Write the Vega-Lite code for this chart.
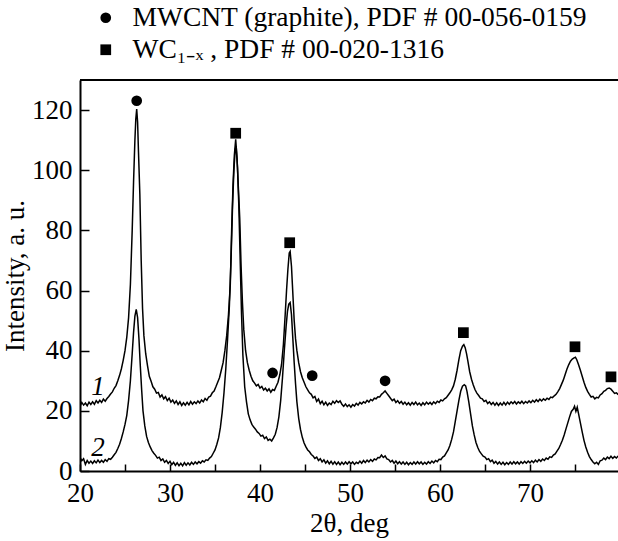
{
  "$schema": "https://vega.github.io/schema/vega-lite/v6.json",
  "autosize": {"type": "none"},
  "padding": {"left": 80, "top": 80, "right": 0, "bottom": 70},
  "width": 538,
  "height": 391,
  "background": "white",
  "config": {
    "font": "Liberation Serif",
    "view": {"stroke": null},
    "axis": {"grid": false, "domainColor": "black", "domainWidth": 2, "tickColor": "black", "tickWidth": 1.5, "labelColor": "black", "titleColor": "black", "labelFont": "Liberation Serif", "titleFont": "Liberation Serif", "labelFontSize": 27, "titleFontSize": 27, "titleFontWeight": "normal", "labelFlush": false, "labelOverlap": false},
    "legend": {"labelFont": "Liberation Serif"}
  },
  "datasets": {
    "curves": [
      {"x":20.0,"y":21.5,"s":"1"},{"x":20.2,"y":22.8,"s":"1"},{"x":20.4,"y":21.9,"s":"1"},{"x":20.6,"y":22.6,"s":"1"},{"x":20.8,"y":21.7,"s":"1"},{"x":21.0,"y":22.9,"s":"1"},{"x":21.2,"y":22.1,"s":"1"},{"x":21.4,"y":23.0,"s":"1"},{"x":21.6,"y":22.2,"s":"1"},{"x":21.8,"y":23.4,"s":"1"},{"x":22.0,"y":22.6,"s":"1"},{"x":22.2,"y":23.5,"s":"1"},{"x":22.4,"y":22.8,"s":"1"},{"x":22.6,"y":23.9,"s":"1"},{"x":22.8,"y":23.2,"s":"1"},{"x":23.0,"y":24.1,"s":"1"},{"x":23.2,"y":24.8,"s":"1"},{"x":23.4,"y":25.6,"s":"1"},{"x":23.6,"y":26.3,"s":"1"},{"x":23.8,"y":27.5,"s":"1"},{"x":24.0,"y":28.4,"s":"1"},{"x":24.2,"y":30.0,"s":"1"},{"x":24.4,"y":31.8,"s":"1"},{"x":24.6,"y":34.0,"s":"1"},{"x":24.8,"y":36.8,"s":"1"},{"x":25.0,"y":40.0,"s":"1"},{"x":25.2,"y":44.5,"s":"1"},{"x":25.4,"y":51.0,"s":"1"},{"x":25.6,"y":62.0,"s":"1"},{"x":25.8,"y":80.0,"s":"1"},{"x":25.95,"y":96.0,"s":"1"},{"x":26.1,"y":110.0,"s":"1"},{"x":26.2,"y":117.0,"s":"1"},{"x":26.3,"y":120.3,"s":"1"},{"x":26.4,"y":116.0,"s":"1"},{"x":26.5,"y":106.0,"s":"1"},{"x":26.65,"y":92.0,"s":"1"},{"x":26.8,"y":70.0,"s":"1"},{"x":26.95,"y":54.0,"s":"1"},{"x":27.1,"y":45.0,"s":"1"},{"x":27.3,"y":39.0,"s":"1"},{"x":27.5,"y":35.0,"s":"1"},{"x":27.7,"y":31.5,"s":"1"},{"x":27.9,"y":29.8,"s":"1"},{"x":28.1,"y":28.0,"s":"1"},{"x":28.3,"y":27.2,"s":"1"},{"x":28.5,"y":25.9,"s":"1"},{"x":28.7,"y":26.1,"s":"1"},{"x":28.9,"y":24.6,"s":"1"},{"x":29.1,"y":25.3,"s":"1"},{"x":29.3,"y":24.0,"s":"1"},{"x":29.5,"y":24.7,"s":"1"},{"x":29.7,"y":23.4,"s":"1"},{"x":29.9,"y":24.2,"s":"1"},{"x":30.1,"y":22.9,"s":"1"},{"x":30.3,"y":23.6,"s":"1"},{"x":30.5,"y":22.5,"s":"1"},{"x":30.7,"y":23.3,"s":"1"},{"x":30.9,"y":22.1,"s":"1"},{"x":31.1,"y":23.0,"s":"1"},{"x":31.3,"y":21.8,"s":"1"},{"x":31.5,"y":22.7,"s":"1"},{"x":31.7,"y":21.9,"s":"1"},{"x":31.9,"y":22.8,"s":"1"},{"x":32.1,"y":22.0,"s":"1"},{"x":32.3,"y":23.1,"s":"1"},{"x":32.5,"y":22.2,"s":"1"},{"x":32.7,"y":23.0,"s":"1"},{"x":32.9,"y":22.4,"s":"1"},{"x":33.1,"y":23.3,"s":"1"},{"x":33.3,"y":22.6,"s":"1"},{"x":33.5,"y":23.6,"s":"1"},{"x":33.7,"y":23.0,"s":"1"},{"x":33.9,"y":24.1,"s":"1"},{"x":34.1,"y":23.5,"s":"1"},{"x":34.3,"y":24.6,"s":"1"},{"x":34.5,"y":24.9,"s":"1"},{"x":34.7,"y":26.0,"s":"1"},{"x":34.9,"y":26.6,"s":"1"},{"x":35.1,"y":28.0,"s":"1"},{"x":35.3,"y":29.5,"s":"1"},{"x":35.5,"y":31.0,"s":"1"},{"x":35.7,"y":33.5,"s":"1"},{"x":35.9,"y":36.0,"s":"1"},{"x":36.1,"y":40.0,"s":"1"},{"x":36.3,"y":45.0,"s":"1"},{"x":36.5,"y":52.0,"s":"1"},{"x":36.7,"y":62.0,"s":"1"},{"x":36.85,"y":80.0,"s":"1"},{"x":37.0,"y":95.0,"s":"1"},{"x":37.15,"y":105.0,"s":"1"},{"x":37.3,"y":110.3,"s":"1"},{"x":37.45,"y":104.0,"s":"1"},{"x":37.6,"y":94.0,"s":"1"},{"x":37.75,"y":84.0,"s":"1"},{"x":37.9,"y":68.0,"s":"1"},{"x":38.05,"y":56.0,"s":"1"},{"x":38.2,"y":47.0,"s":"1"},{"x":38.4,"y":40.0,"s":"1"},{"x":38.6,"y":36.0,"s":"1"},{"x":38.8,"y":33.5,"s":"1"},{"x":39.0,"y":31.5,"s":"1"},{"x":39.2,"y":30.0,"s":"1"},{"x":39.4,"y":29.2,"s":"1"},{"x":39.6,"y":28.3,"s":"1"},{"x":39.8,"y":28.8,"s":"1"},{"x":40.0,"y":27.6,"s":"1"},{"x":40.2,"y":28.1,"s":"1"},{"x":40.4,"y":26.9,"s":"1"},{"x":40.6,"y":27.5,"s":"1"},{"x":40.8,"y":26.6,"s":"1"},{"x":41.0,"y":27.3,"s":"1"},{"x":41.2,"y":26.2,"s":"1"},{"x":41.4,"y":27.1,"s":"1"},{"x":41.6,"y":26.8,"s":"1"},{"x":41.8,"y":28.2,"s":"1"},{"x":42.0,"y":29.5,"s":"1"},{"x":42.2,"y":32.0,"s":"1"},{"x":42.4,"y":35.5,"s":"1"},{"x":42.6,"y":42.0,"s":"1"},{"x":42.8,"y":52.0,"s":"1"},{"x":42.95,"y":60.0,"s":"1"},{"x":43.1,"y":67.0,"s":"1"},{"x":43.25,"y":72.5,"s":"1"},{"x":43.35,"y":73.0,"s":"1"},{"x":43.5,"y":68.0,"s":"1"},{"x":43.6,"y":62.0,"s":"1"},{"x":43.7,"y":56.0,"s":"1"},{"x":43.8,"y":50.0,"s":"1"},{"x":43.95,"y":44.0,"s":"1"},{"x":44.1,"y":40.0,"s":"1"},{"x":44.3,"y":36.0,"s":"1"},{"x":44.5,"y":33.0,"s":"1"},{"x":44.7,"y":31.0,"s":"1"},{"x":44.9,"y":29.5,"s":"1"},{"x":45.1,"y":28.0,"s":"1"},{"x":45.3,"y":27.0,"s":"1"},{"x":45.5,"y":26.0,"s":"1"},{"x":45.7,"y":25.5,"s":"1"},{"x":45.9,"y":24.3,"s":"1"},{"x":46.1,"y":24.8,"s":"1"},{"x":46.3,"y":23.1,"s":"1"},{"x":46.5,"y":23.9,"s":"1"},{"x":46.7,"y":22.4,"s":"1"},{"x":46.9,"y":23.2,"s":"1"},{"x":47.1,"y":22.0,"s":"1"},{"x":47.3,"y":22.9,"s":"1"},{"x":47.5,"y":21.8,"s":"1"},{"x":47.7,"y":22.6,"s":"1"},{"x":47.9,"y":22.1,"s":"1"},{"x":48.1,"y":23.2,"s":"1"},{"x":48.3,"y":22.5,"s":"1"},{"x":48.5,"y":23.4,"s":"1"},{"x":48.7,"y":22.8,"s":"1"},{"x":48.9,"y":23.3,"s":"1"},{"x":49.1,"y":22.2,"s":"1"},{"x":49.3,"y":21.5,"s":"1"},{"x":49.5,"y":22.3,"s":"1"},{"x":49.7,"y":21.4,"s":"1"},{"x":49.9,"y":22.0,"s":"1"},{"x":50.1,"y":21.2,"s":"1"},{"x":50.3,"y":22.1,"s":"1"},{"x":50.5,"y":21.6,"s":"1"},{"x":50.7,"y":22.5,"s":"1"},{"x":50.9,"y":21.9,"s":"1"},{"x":51.1,"y":22.8,"s":"1"},{"x":51.3,"y":22.3,"s":"1"},{"x":51.5,"y":23.0,"s":"1"},{"x":51.7,"y":22.6,"s":"1"},{"x":51.9,"y":23.5,"s":"1"},{"x":52.1,"y":22.9,"s":"1"},{"x":52.3,"y":23.8,"s":"1"},{"x":52.5,"y":23.4,"s":"1"},{"x":52.7,"y":24.2,"s":"1"},{"x":52.9,"y":24.0,"s":"1"},{"x":53.1,"y":24.7,"s":"1"},{"x":53.3,"y":24.6,"s":"1"},{"x":53.5,"y":25.5,"s":"1"},{"x":53.7,"y":26.0,"s":"1"},{"x":53.9,"y":26.6,"s":"1"},{"x":54.1,"y":25.8,"s":"1"},{"x":54.3,"y":25.0,"s":"1"},{"x":54.5,"y":24.2,"s":"1"},{"x":54.7,"y":23.4,"s":"1"},{"x":54.9,"y":23.9,"s":"1"},{"x":55.1,"y":22.8,"s":"1"},{"x":55.3,"y":23.4,"s":"1"},{"x":55.5,"y":22.5,"s":"1"},{"x":55.7,"y":23.1,"s":"1"},{"x":55.9,"y":22.2,"s":"1"},{"x":56.1,"y":22.9,"s":"1"},{"x":56.3,"y":22.0,"s":"1"},{"x":56.5,"y":22.7,"s":"1"},{"x":56.7,"y":21.9,"s":"1"},{"x":56.9,"y":22.8,"s":"1"},{"x":57.1,"y":22.1,"s":"1"},{"x":57.3,"y":22.9,"s":"1"},{"x":57.5,"y":22.0,"s":"1"},{"x":57.7,"y":22.6,"s":"1"},{"x":57.9,"y":21.8,"s":"1"},{"x":58.1,"y":22.7,"s":"1"},{"x":58.3,"y":22.0,"s":"1"},{"x":58.5,"y":22.9,"s":"1"},{"x":58.7,"y":22.2,"s":"1"},{"x":58.9,"y":22.8,"s":"1"},{"x":59.1,"y":22.1,"s":"1"},{"x":59.3,"y":23.0,"s":"1"},{"x":59.5,"y":22.4,"s":"1"},{"x":59.7,"y":23.2,"s":"1"},{"x":59.9,"y":22.8,"s":"1"},{"x":60.1,"y":23.6,"s":"1"},{"x":60.3,"y":23.3,"s":"1"},{"x":60.5,"y":24.0,"s":"1"},{"x":60.7,"y":24.4,"s":"1"},{"x":60.9,"y":25.2,"s":"1"},{"x":61.1,"y":26.0,"s":"1"},{"x":61.3,"y":27.0,"s":"1"},{"x":61.5,"y":28.3,"s":"1"},{"x":61.7,"y":30.5,"s":"1"},{"x":61.9,"y":33.5,"s":"1"},{"x":62.1,"y":37.0,"s":"1"},{"x":62.3,"y":40.0,"s":"1"},{"x":62.5,"y":41.5,"s":"1"},{"x":62.65,"y":42.0,"s":"1"},{"x":62.8,"y":41.0,"s":"1"},{"x":62.95,"y":39.0,"s":"1"},{"x":63.1,"y":36.5,"s":"1"},{"x":63.3,"y":33.0,"s":"1"},{"x":63.5,"y":30.5,"s":"1"},{"x":63.7,"y":28.6,"s":"1"},{"x":63.9,"y":27.0,"s":"1"},{"x":64.1,"y":25.9,"s":"1"},{"x":64.3,"y":25.1,"s":"1"},{"x":64.5,"y":24.2,"s":"1"},{"x":64.7,"y":24.0,"s":"1"},{"x":64.9,"y":23.1,"s":"1"},{"x":65.1,"y":23.5,"s":"1"},{"x":65.3,"y":22.4,"s":"1"},{"x":65.5,"y":23.0,"s":"1"},{"x":65.7,"y":22.1,"s":"1"},{"x":65.9,"y":22.8,"s":"1"},{"x":66.1,"y":21.9,"s":"1"},{"x":66.3,"y":22.7,"s":"1"},{"x":66.5,"y":21.8,"s":"1"},{"x":66.7,"y":22.6,"s":"1"},{"x":66.9,"y":21.9,"s":"1"},{"x":67.1,"y":22.8,"s":"1"},{"x":67.3,"y":22.0,"s":"1"},{"x":67.5,"y":22.9,"s":"1"},{"x":67.7,"y":22.2,"s":"1"},{"x":67.9,"y":23.0,"s":"1"},{"x":68.1,"y":22.4,"s":"1"},{"x":68.3,"y":23.1,"s":"1"},{"x":68.5,"y":22.3,"s":"1"},{"x":68.7,"y":23.0,"s":"1"},{"x":68.9,"y":22.5,"s":"1"},{"x":69.1,"y":23.2,"s":"1"},{"x":69.3,"y":22.4,"s":"1"},{"x":69.5,"y":23.1,"s":"1"},{"x":69.7,"y":22.6,"s":"1"},{"x":69.9,"y":23.3,"s":"1"},{"x":70.1,"y":22.7,"s":"1"},{"x":70.3,"y":23.5,"s":"1"},{"x":70.5,"y":22.9,"s":"1"},{"x":70.7,"y":23.7,"s":"1"},{"x":70.9,"y":23.1,"s":"1"},{"x":71.1,"y":23.9,"s":"1"},{"x":71.3,"y":23.3,"s":"1"},{"x":71.5,"y":24.0,"s":"1"},{"x":71.7,"y":23.5,"s":"1"},{"x":71.9,"y":24.2,"s":"1"},{"x":72.1,"y":23.8,"s":"1"},{"x":72.3,"y":24.6,"s":"1"},{"x":72.5,"y":24.4,"s":"1"},{"x":72.7,"y":25.0,"s":"1"},{"x":72.9,"y":25.5,"s":"1"},{"x":73.1,"y":26.4,"s":"1"},{"x":73.3,"y":27.4,"s":"1"},{"x":73.5,"y":28.8,"s":"1"},{"x":73.7,"y":30.2,"s":"1"},{"x":73.9,"y":32.0,"s":"1"},{"x":74.1,"y":33.8,"s":"1"},{"x":74.3,"y":35.3,"s":"1"},{"x":74.5,"y":36.5,"s":"1"},{"x":74.7,"y":37.2,"s":"1"},{"x":74.9,"y":37.6,"s":"1"},{"x":75.05,"y":37.8,"s":"1"},{"x":75.2,"y":37.0,"s":"1"},{"x":75.4,"y":35.3,"s":"1"},{"x":75.6,"y":33.5,"s":"1"},{"x":75.8,"y":31.5,"s":"1"},{"x":76.0,"y":29.5,"s":"1"},{"x":76.2,"y":27.8,"s":"1"},{"x":76.4,"y":26.5,"s":"1"},{"x":76.6,"y":25.5,"s":"1"},{"x":76.8,"y":24.6,"s":"1"},{"x":77.0,"y":24.8,"s":"1"},{"x":77.2,"y":24.0,"s":"1"},{"x":77.4,"y":24.5,"s":"1"},{"x":77.6,"y":24.3,"s":"1"},{"x":77.8,"y":25.3,"s":"1"},{"x":78.0,"y":25.7,"s":"1"},{"x":78.2,"y":26.5,"s":"1"},{"x":78.4,"y":26.8,"s":"1"},{"x":78.6,"y":27.4,"s":"1"},{"x":78.8,"y":27.6,"s":"1"},{"x":79.0,"y":27.2,"s":"1"},{"x":79.2,"y":26.5,"s":"1"},{"x":79.4,"y":25.8,"s":"1"},{"x":79.6,"y":26.0,"s":"1"},{"x":79.8,"y":25.4,"s":"1"},
      {"x":20.0,"y":4.5,"s":"2"},{"x":20.2,"y":3.4,"s":"2"},{"x":20.4,"y":4.1,"s":"2"},{"x":20.6,"y":2.2,"s":"2"},{"x":20.8,"y":3.5,"s":"2"},{"x":21.0,"y":2.6,"s":"2"},{"x":21.2,"y":3.3,"s":"2"},{"x":21.4,"y":2.5,"s":"2"},{"x":21.6,"y":3.4,"s":"2"},{"x":21.8,"y":2.7,"s":"2"},{"x":22.0,"y":3.6,"s":"2"},{"x":22.2,"y":2.8,"s":"2"},{"x":22.4,"y":3.5,"s":"2"},{"x":22.6,"y":2.9,"s":"2"},{"x":22.8,"y":3.8,"s":"2"},{"x":23.0,"y":3.2,"s":"2"},{"x":23.2,"y":4.1,"s":"2"},{"x":23.4,"y":3.9,"s":"2"},{"x":23.6,"y":4.6,"s":"2"},{"x":23.8,"y":5.4,"s":"2"},{"x":24.0,"y":6.2,"s":"2"},{"x":24.2,"y":7.5,"s":"2"},{"x":24.4,"y":8.9,"s":"2"},{"x":24.6,"y":10.8,"s":"2"},{"x":24.8,"y":13.0,"s":"2"},{"x":25.0,"y":15.5,"s":"2"},{"x":25.2,"y":18.5,"s":"2"},{"x":25.4,"y":23.5,"s":"2"},{"x":25.6,"y":30.0,"s":"2"},{"x":25.8,"y":39.0,"s":"2"},{"x":25.95,"y":46.0,"s":"2"},{"x":26.1,"y":51.5,"s":"2"},{"x":26.25,"y":53.7,"s":"2"},{"x":26.4,"y":51.0,"s":"2"},{"x":26.55,"y":44.0,"s":"2"},{"x":26.7,"y":35.0,"s":"2"},{"x":26.85,"y":27.0,"s":"2"},{"x":27.0,"y":20.0,"s":"2"},{"x":27.2,"y":15.0,"s":"2"},{"x":27.4,"y":11.5,"s":"2"},{"x":27.6,"y":9.5,"s":"2"},{"x":27.8,"y":8.0,"s":"2"},{"x":28.0,"y":6.8,"s":"2"},{"x":28.2,"y":5.9,"s":"2"},{"x":28.4,"y":5.2,"s":"2"},{"x":28.6,"y":4.3,"s":"2"},{"x":28.8,"y":4.6,"s":"2"},{"x":29.0,"y":3.5,"s":"2"},{"x":29.2,"y":4.0,"s":"2"},{"x":29.4,"y":2.9,"s":"2"},{"x":29.6,"y":3.5,"s":"2"},{"x":29.8,"y":2.5,"s":"2"},{"x":30.0,"y":3.2,"s":"2"},{"x":30.2,"y":2.1,"s":"2"},{"x":30.4,"y":2.9,"s":"2"},{"x":30.6,"y":1.9,"s":"2"},{"x":30.8,"y":2.7,"s":"2"},{"x":31.0,"y":1.8,"s":"2"},{"x":31.2,"y":2.6,"s":"2"},{"x":31.4,"y":1.7,"s":"2"},{"x":31.6,"y":2.8,"s":"2"},{"x":31.8,"y":1.9,"s":"2"},{"x":32.0,"y":2.7,"s":"2"},{"x":32.2,"y":2.0,"s":"2"},{"x":32.4,"y":2.9,"s":"2"},{"x":32.6,"y":2.2,"s":"2"},{"x":32.8,"y":3.0,"s":"2"},{"x":33.0,"y":2.4,"s":"2"},{"x":33.2,"y":3.1,"s":"2"},{"x":33.4,"y":2.6,"s":"2"},{"x":33.6,"y":3.4,"s":"2"},{"x":33.8,"y":3.0,"s":"2"},{"x":34.0,"y":3.7,"s":"2"},{"x":34.2,"y":3.5,"s":"2"},{"x":34.4,"y":4.3,"s":"2"},{"x":34.6,"y":4.8,"s":"2"},{"x":34.8,"y":5.9,"s":"2"},{"x":35.0,"y":7.0,"s":"2"},{"x":35.2,"y":8.8,"s":"2"},{"x":35.4,"y":11.0,"s":"2"},{"x":35.6,"y":14.5,"s":"2"},{"x":35.8,"y":19.5,"s":"2"},{"x":36.0,"y":26.0,"s":"2"},{"x":36.2,"y":34.0,"s":"2"},{"x":36.4,"y":44.0,"s":"2"},{"x":36.6,"y":55.0,"s":"2"},{"x":36.8,"y":72.0,"s":"2"},{"x":36.95,"y":88.0,"s":"2"},{"x":37.1,"y":100.0,"s":"2"},{"x":37.25,"y":107.0,"s":"2"},{"x":37.35,"y":108.0,"s":"2"},{"x":37.5,"y":101.0,"s":"2"},{"x":37.65,"y":88.0,"s":"2"},{"x":37.8,"y":70.0,"s":"2"},{"x":37.95,"y":52.0,"s":"2"},{"x":38.1,"y":38.5,"s":"2"},{"x":38.3,"y":28.0,"s":"2"},{"x":38.5,"y":23.0,"s":"2"},{"x":38.7,"y":19.0,"s":"2"},{"x":38.9,"y":17.0,"s":"2"},{"x":39.1,"y":15.5,"s":"2"},{"x":39.3,"y":14.6,"s":"2"},{"x":39.5,"y":13.9,"s":"2"},{"x":39.7,"y":13.0,"s":"2"},{"x":39.9,"y":12.5,"s":"2"},{"x":40.1,"y":11.6,"s":"2"},{"x":40.3,"y":11.9,"s":"2"},{"x":40.5,"y":10.8,"s":"2"},{"x":40.7,"y":11.3,"s":"2"},{"x":40.9,"y":10.2,"s":"2"},{"x":41.1,"y":10.6,"s":"2"},{"x":41.3,"y":10.0,"s":"2"},{"x":41.5,"y":11.0,"s":"2"},{"x":41.7,"y":12.2,"s":"2"},{"x":41.9,"y":14.5,"s":"2"},{"x":42.1,"y":18.0,"s":"2"},{"x":42.3,"y":23.5,"s":"2"},{"x":42.5,"y":31.0,"s":"2"},{"x":42.7,"y":40.0,"s":"2"},{"x":42.9,"y":48.0,"s":"2"},{"x":43.05,"y":53.0,"s":"2"},{"x":43.2,"y":55.5,"s":"2"},{"x":43.35,"y":56.0,"s":"2"},{"x":43.5,"y":52.0,"s":"2"},{"x":43.65,"y":44.0,"s":"2"},{"x":43.8,"y":36.0,"s":"2"},{"x":43.95,"y":29.0,"s":"2"},{"x":44.1,"y":23.0,"s":"2"},{"x":44.3,"y":17.5,"s":"2"},{"x":44.5,"y":13.8,"s":"2"},{"x":44.7,"y":11.2,"s":"2"},{"x":44.9,"y":9.3,"s":"2"},{"x":45.1,"y":8.0,"s":"2"},{"x":45.3,"y":7.0,"s":"2"},{"x":45.5,"y":6.4,"s":"2"},{"x":45.7,"y":5.5,"s":"2"},{"x":45.9,"y":5.0,"s":"2"},{"x":46.1,"y":4.2,"s":"2"},{"x":46.3,"y":4.6,"s":"2"},{"x":46.5,"y":3.5,"s":"2"},{"x":46.7,"y":4.1,"s":"2"},{"x":46.9,"y":3.0,"s":"2"},{"x":47.1,"y":3.7,"s":"2"},{"x":47.3,"y":2.6,"s":"2"},{"x":47.5,"y":3.4,"s":"2"},{"x":47.7,"y":2.4,"s":"2"},{"x":47.9,"y":3.2,"s":"2"},{"x":48.1,"y":2.3,"s":"2"},{"x":48.3,"y":3.1,"s":"2"},{"x":48.5,"y":2.2,"s":"2"},{"x":48.7,"y":3.0,"s":"2"},{"x":48.9,"y":2.1,"s":"2"},{"x":49.1,"y":2.9,"s":"2"},{"x":49.3,"y":2.2,"s":"2"},{"x":49.5,"y":3.0,"s":"2"},{"x":49.7,"y":2.3,"s":"2"},{"x":49.9,"y":3.1,"s":"2"},{"x":50.1,"y":2.4,"s":"2"},{"x":50.3,"y":3.0,"s":"2"},{"x":50.5,"y":2.2,"s":"2"},{"x":50.7,"y":2.9,"s":"2"},{"x":50.9,"y":2.5,"s":"2"},{"x":51.1,"y":3.3,"s":"2"},{"x":51.3,"y":2.6,"s":"2"},{"x":51.5,"y":3.5,"s":"2"},{"x":51.7,"y":2.8,"s":"2"},{"x":51.9,"y":3.6,"s":"2"},{"x":52.1,"y":3.0,"s":"2"},{"x":52.3,"y":3.8,"s":"2"},{"x":52.5,"y":3.2,"s":"2"},{"x":52.7,"y":4.0,"s":"2"},{"x":52.9,"y":3.7,"s":"2"},{"x":53.1,"y":4.5,"s":"2"},{"x":53.3,"y":4.4,"s":"2"},{"x":53.5,"y":5.3,"s":"2"},{"x":53.7,"y":4.5,"s":"2"},{"x":53.9,"y":5.0,"s":"2"},{"x":54.1,"y":4.0,"s":"2"},{"x":54.3,"y":3.8,"s":"2"},{"x":54.5,"y":3.0,"s":"2"},{"x":54.7,"y":3.5,"s":"2"},{"x":54.9,"y":2.6,"s":"2"},{"x":55.1,"y":3.3,"s":"2"},{"x":55.3,"y":2.4,"s":"2"},{"x":55.5,"y":3.1,"s":"2"},{"x":55.7,"y":2.3,"s":"2"},{"x":55.9,"y":3.0,"s":"2"},{"x":56.1,"y":2.2,"s":"2"},{"x":56.3,"y":2.9,"s":"2"},{"x":56.5,"y":2.1,"s":"2"},{"x":56.7,"y":2.8,"s":"2"},{"x":56.9,"y":2.2,"s":"2"},{"x":57.1,"y":3.0,"s":"2"},{"x":57.3,"y":2.3,"s":"2"},{"x":57.5,"y":3.1,"s":"2"},{"x":57.7,"y":2.4,"s":"2"},{"x":57.9,"y":3.0,"s":"2"},{"x":58.1,"y":2.2,"s":"2"},{"x":58.3,"y":2.9,"s":"2"},{"x":58.5,"y":2.3,"s":"2"},{"x":58.7,"y":3.1,"s":"2"},{"x":58.9,"y":2.5,"s":"2"},{"x":59.1,"y":3.3,"s":"2"},{"x":59.3,"y":2.7,"s":"2"},{"x":59.5,"y":3.5,"s":"2"},{"x":59.7,"y":3.1,"s":"2"},{"x":59.9,"y":3.9,"s":"2"},{"x":60.1,"y":3.8,"s":"2"},{"x":60.3,"y":4.6,"s":"2"},{"x":60.5,"y":5.0,"s":"2"},{"x":60.7,"y":6.0,"s":"2"},{"x":60.9,"y":7.0,"s":"2"},{"x":61.1,"y":8.5,"s":"2"},{"x":61.3,"y":10.5,"s":"2"},{"x":61.5,"y":13.0,"s":"2"},{"x":61.7,"y":16.5,"s":"2"},{"x":61.9,"y":20.0,"s":"2"},{"x":62.1,"y":23.5,"s":"2"},{"x":62.3,"y":26.5,"s":"2"},{"x":62.5,"y":28.2,"s":"2"},{"x":62.7,"y":28.7,"s":"2"},{"x":62.85,"y":28.3,"s":"2"},{"x":63.0,"y":26.5,"s":"2"},{"x":63.2,"y":23.0,"s":"2"},{"x":63.4,"y":19.0,"s":"2"},{"x":63.6,"y":15.0,"s":"2"},{"x":63.8,"y":12.0,"s":"2"},{"x":64.0,"y":9.5,"s":"2"},{"x":64.2,"y":7.8,"s":"2"},{"x":64.4,"y":6.5,"s":"2"},{"x":64.6,"y":5.7,"s":"2"},{"x":64.8,"y":4.9,"s":"2"},{"x":65.0,"y":4.6,"s":"2"},{"x":65.2,"y":3.8,"s":"2"},{"x":65.4,"y":4.1,"s":"2"},{"x":65.6,"y":3.1,"s":"2"},{"x":65.8,"y":3.6,"s":"2"},{"x":66.0,"y":2.6,"s":"2"},{"x":66.2,"y":3.2,"s":"2"},{"x":66.4,"y":2.3,"s":"2"},{"x":66.6,"y":3.0,"s":"2"},{"x":66.8,"y":2.2,"s":"2"},{"x":67.0,"y":2.9,"s":"2"},{"x":67.2,"y":2.1,"s":"2"},{"x":67.4,"y":2.8,"s":"2"},{"x":67.6,"y":2.2,"s":"2"},{"x":67.8,"y":3.0,"s":"2"},{"x":68.0,"y":2.3,"s":"2"},{"x":68.2,"y":3.1,"s":"2"},{"x":68.4,"y":2.4,"s":"2"},{"x":68.6,"y":3.0,"s":"2"},{"x":68.8,"y":2.3,"s":"2"},{"x":69.0,"y":3.1,"s":"2"},{"x":69.2,"y":2.5,"s":"2"},{"x":69.4,"y":3.2,"s":"2"},{"x":69.6,"y":2.6,"s":"2"},{"x":69.8,"y":3.3,"s":"2"},{"x":70.0,"y":2.7,"s":"2"},{"x":70.2,"y":3.4,"s":"2"},{"x":70.4,"y":2.8,"s":"2"},{"x":70.6,"y":3.6,"s":"2"},{"x":70.8,"y":3.0,"s":"2"},{"x":71.0,"y":3.8,"s":"2"},{"x":71.2,"y":3.2,"s":"2"},{"x":71.4,"y":4.0,"s":"2"},{"x":71.6,"y":3.5,"s":"2"},{"x":71.8,"y":4.3,"s":"2"},{"x":72.0,"y":3.9,"s":"2"},{"x":72.2,"y":4.7,"s":"2"},{"x":72.4,"y":4.5,"s":"2"},{"x":72.6,"y":5.3,"s":"2"},{"x":72.8,"y":5.7,"s":"2"},{"x":73.0,"y":6.6,"s":"2"},{"x":73.2,"y":7.5,"s":"2"},{"x":73.4,"y":8.8,"s":"2"},{"x":73.6,"y":10.2,"s":"2"},{"x":73.8,"y":12.0,"s":"2"},{"x":74.0,"y":14.0,"s":"2"},{"x":74.2,"y":16.0,"s":"2"},{"x":74.4,"y":18.0,"s":"2"},{"x":74.6,"y":19.8,"s":"2"},{"x":74.8,"y":20.5,"s":"2"},{"x":74.95,"y":21.5,"s":"2"},{"x":75.1,"y":19.8,"s":"2"},{"x":75.25,"y":21.2,"s":"2"},{"x":75.4,"y":19.0,"s":"2"},{"x":75.6,"y":16.0,"s":"2"},{"x":75.8,"y":13.0,"s":"2"},{"x":76.0,"y":10.2,"s":"2"},{"x":76.2,"y":8.0,"s":"2"},{"x":76.4,"y":6.2,"s":"2"},{"x":76.6,"y":4.8,"s":"2"},{"x":76.8,"y":3.8,"s":"2"},{"x":77.0,"y":3.0,"s":"2"},{"x":77.2,"y":2.4,"s":"2"},{"x":77.4,"y":2.9,"s":"2"},{"x":77.6,"y":2.2,"s":"2"},{"x":77.8,"y":3.4,"s":"2"},{"x":78.0,"y":3.6,"s":"2"},{"x":78.2,"y":4.3,"s":"2"},{"x":78.4,"y":3.8,"s":"2"},{"x":78.6,"y":4.6,"s":"2"},{"x":78.8,"y":4.1,"s":"2"},{"x":79.0,"y":4.9,"s":"2"},{"x":79.2,"y":4.2,"s":"2"},{"x":79.4,"y":4.8,"s":"2"},{"x":79.6,"y":4.3,"s":"2"},{"x":79.8,"y":5.0,"s":"2"}
    ],
    "markers": [
      {"x":26.3,"y":123.1,"phase":"MWCNT (graphite), PDF # 00-056-0159"},
      {"x":41.4,"y":32.6,"phase":"MWCNT (graphite), PDF # 00-056-0159"},
      {"x":45.8,"y":31.7,"phase":"MWCNT (graphite), PDF # 00-056-0159"},
      {"x":53.9,"y":30.0,"phase":"MWCNT (graphite), PDF # 00-056-0159"},
      {"x":37.3,"y":112.3,"phase":"WC₁₋ₓ , PDF # 00-020-1316"},
      {"x":43.3,"y":75.9,"phase":"WC₁₋ₓ , PDF # 00-020-1316"},
      {"x":62.6,"y":46.0,"phase":"WC₁₋ₓ , PDF # 00-020-1316"},
      {"x":75.0,"y":41.3,"phase":"WC₁₋ₓ , PDF # 00-020-1316"},
      {"x":79.0,"y":31.3,"phase":"WC₁₋ₓ , PDF # 00-020-1316"}
    ],
    "labels": [
      {"x":22.0,"y":28.0,"t":"1"},
      {"x":22.0,"y":7.6,"t":"2"}
    ],
    "frame": [{"top": 130}]
  },
  "layer": [
    {
      "data": {"name": "curves"},
      "mark": {"type": "line", "color": "black", "strokeWidth": 1.5, "clip": true},
      "encoding": {
        "x": {"field": "x", "type": "quantitative", "scale": {"domain": [20, 79.78], "nice": false, "zero": false},
          "axis": {"title": "2θ, deg", "values": [20,25,30,35,40,45,50,55,60,65,70,75], "labelExpr": "datum.value % 10 === 0 ? datum.label : ''", "tickSize": -7, "labelPadding": 16, "titlePadding": 4}},
        "y": {"field": "y", "type": "quantitative", "scale": {"domain": [0, 130], "nice": false},
          "axis": {"title": "Intensity, a. u.", "values": [0,10,20,30,40,50,60,70,80,90,100,110,120], "labelExpr": "datum.value % 20 === 0 ? datum.label : ''", "tickSize": -9, "labelPadding": 17, "titlePadding": 2}},
        "detail": {"field": "s"}
      }
    },
    {
      "data": {"name": "markers"},
      "mark": {"type": "point", "filled": true, "color": "black", "opacity": 1, "size": 115},
      "encoding": {
        "x": {"field": "x", "type": "quantitative"},
        "y": {"field": "y", "type": "quantitative"},
        "shape": {"field": "phase", "type": "nominal",
          "scale": {"domain": ["MWCNT (graphite), PDF # 00-056-0159", "WC₁₋ₓ , PDF # 00-020-1316"], "range": ["circle", "square"]},
          "legend": {"title": null, "orient": "none", "legendX": 12, "legendY": -76, "direction": "vertical", "labelFontSize": 27.5, "labelColor": "black", "symbolSize": 115, "symbolFillColor": "black", "symbolStrokeColor": "black", "labelOffset": 13, "rowPadding": 3, "padding": 0, "labelLimit": 600}}
      }
    },
    {
      "data": {"name": "labels"},
      "mark": {"type": "text", "fontStyle": "italic", "fontSize": 27, "color": "black", "align": "center", "baseline": "middle"},
      "encoding": {
        "x": {"field": "x", "type": "quantitative"},
        "y": {"field": "y", "type": "quantitative"},
        "text": {"field": "t"}
      }
    },
    {
      "data": {"name": "frame"},
      "mark": {"type": "rule", "color": "black", "strokeWidth": 2},
      "encoding": {"y": {"field": "top", "type": "quantitative"}}
    }
  ]
}
